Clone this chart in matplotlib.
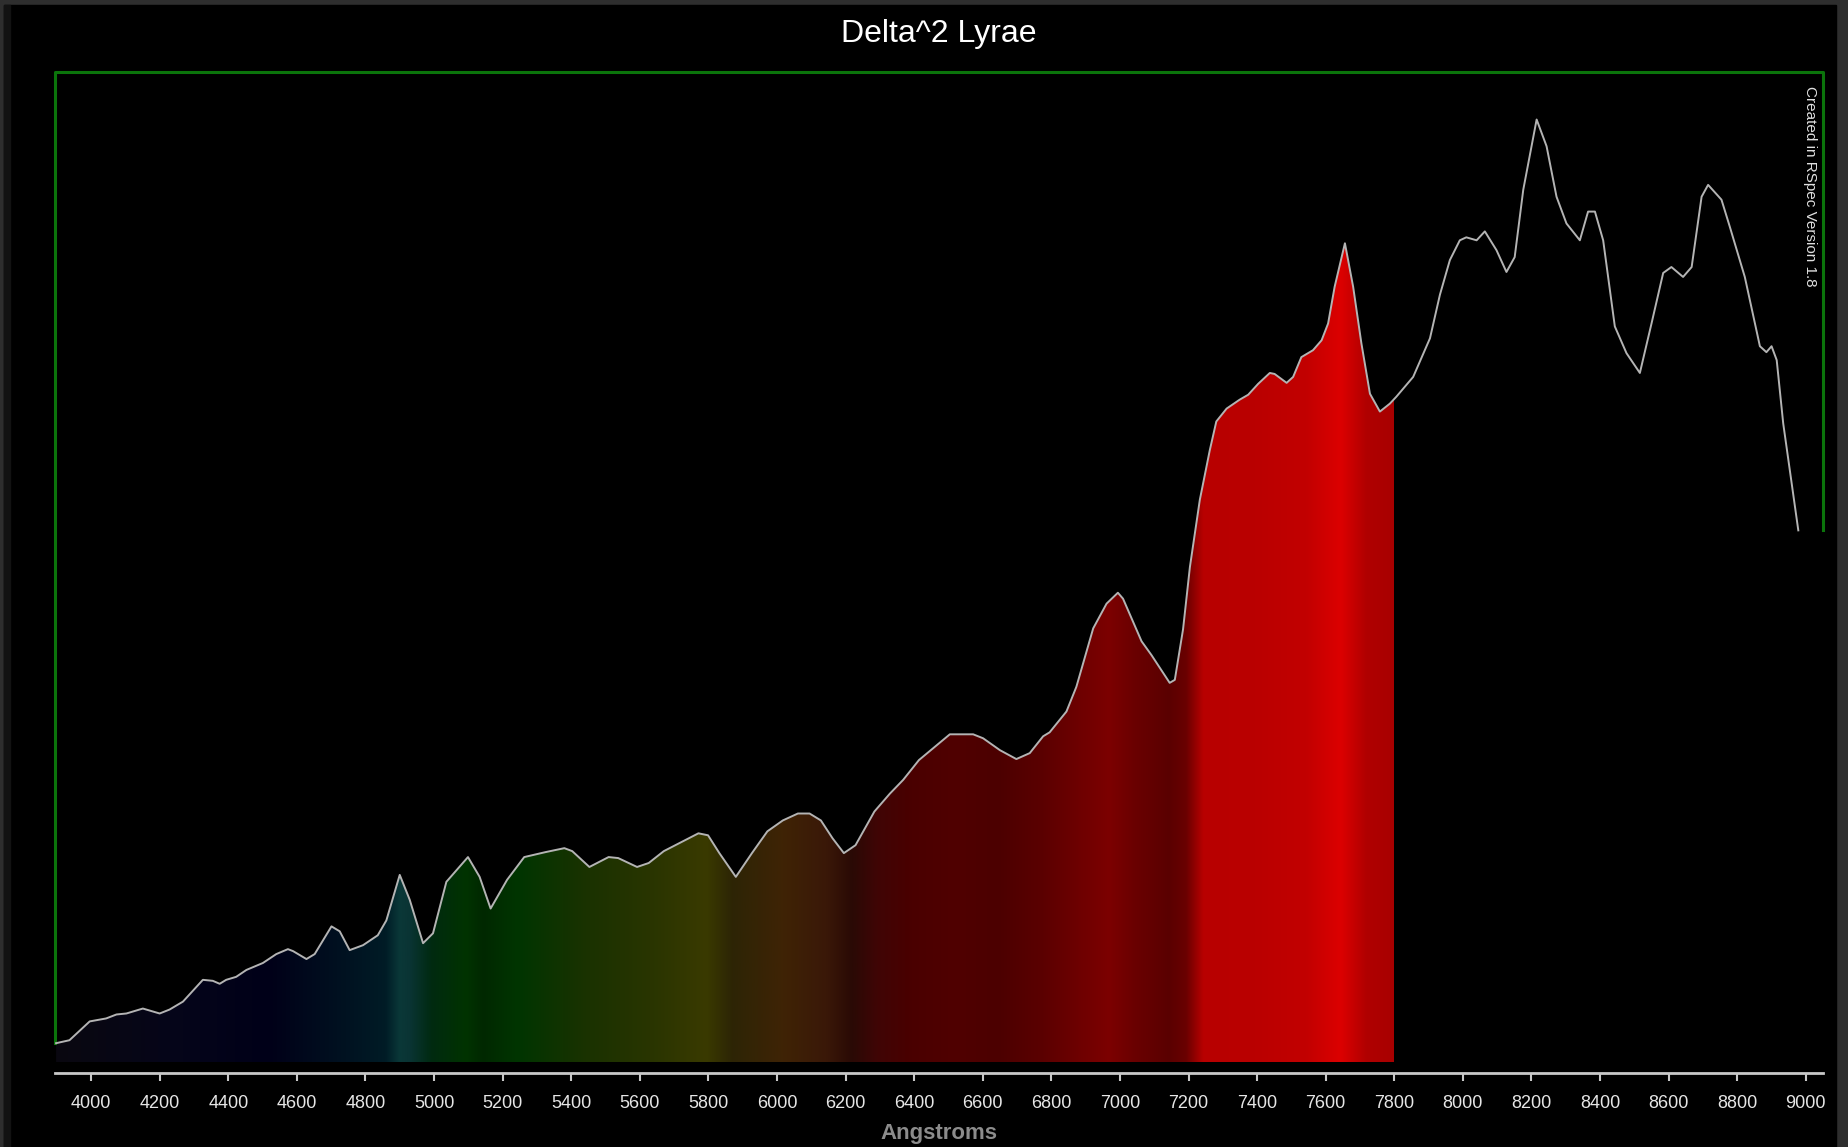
#!/usr/bin/env python3
"""Delta^2 Lyrae spectrum, RSpec style: rainbow-filled profile on black."""
import numpy as np
import matplotlib
matplotlib.use("Agg")
import matplotlib.pyplot as plt
from matplotlib.patches import Rectangle

# wavelength (Angstrom) and relative flux
wavelength = [3898, 3937, 3996, 4044, 4074, 4103, 4151, 4200, 4229, 4268,
              4326, 4355, 4375, 4394, 4423, 4453, 4501, 4540, 4574, 4589,
              4628, 4652, 4701, 4725, 4754, 4793, 4836, 4861, 4900, 4929,
              4968, 4997, 5036, 5099, 5133, 5165, 5213, 5263, 5325, 5380,
              5403, 5453, 5509, 5537, 5592, 5626, 5670, 5726, 5771, 5799,
              5832, 5880, 5927, 5972, 6017, 6061, 6095, 6128, 6162, 6195,
              6229, 6284, 6329, 6368, 6414, 6483, 6504, 6572, 6601, 6650,
              6698, 6737, 6776, 6795, 6844, 6873, 6922, 6961, 6994, 7009,
              7063, 7092, 7145, 7160, 7184, 7204, 7233, 7262, 7281, 7311,
              7349, 7374, 7403, 7437, 7451, 7486, 7505, 7529, 7563, 7588,
              7607, 7626, 7656, 7680, 7704, 7729, 7758, 7787, 7806, 7855,
              7904, 7933, 7962, 7991, 8010, 8040, 8064, 8098, 8127, 8151,
              8176, 8215, 8244, 8273, 8302, 8341, 8365, 8385, 8409, 8443,
              8477, 8516, 8550, 8584, 8608, 8642, 8667, 8696, 8715, 8754,
              8778, 8822, 8866, 8885, 8900, 8915, 8934, 8978]
flux = [0.019, 0.022, 0.041, 0.044, 0.048, 0.049, 0.054, 0.049, 0.053, 0.061,
        0.083, 0.082, 0.079, 0.083, 0.086, 0.093, 0.100, 0.109, 0.114, 0.112,
        0.104, 0.109, 0.137, 0.132, 0.113, 0.118, 0.128, 0.143, 0.189, 0.164,
        0.120, 0.130, 0.182, 0.207, 0.187, 0.155, 0.184, 0.207, 0.212, 0.216,
        0.213, 0.197, 0.207, 0.206, 0.197, 0.201, 0.213, 0.223, 0.231, 0.229,
        0.211, 0.187, 0.211, 0.233, 0.244, 0.251, 0.251, 0.244, 0.226, 0.211,
        0.219, 0.253, 0.271, 0.285, 0.305, 0.325, 0.331, 0.331, 0.327, 0.315,
        0.306, 0.312, 0.329, 0.333, 0.354, 0.379, 0.438, 0.463, 0.474, 0.468,
        0.425, 0.411, 0.383, 0.386, 0.437, 0.500, 0.568, 0.618, 0.647, 0.660,
        0.669, 0.674, 0.685, 0.696, 0.695, 0.686, 0.692, 0.712, 0.719, 0.729,
        0.746, 0.783, 0.827, 0.783, 0.726, 0.675, 0.657, 0.665, 0.672, 0.692,
        0.731, 0.775, 0.810, 0.830, 0.833, 0.830, 0.839, 0.820, 0.798, 0.813,
        0.881, 0.952, 0.925, 0.874, 0.847, 0.830, 0.859, 0.859, 0.830, 0.743,
        0.716, 0.696, 0.746, 0.797, 0.803, 0.793, 0.803, 0.874, 0.886, 0.871,
        0.844, 0.793, 0.723, 0.717, 0.723, 0.709, 0.645, 0.537]
assert len(wavelength) == len(flux)

x_ticks = list(range(4000, 9001, 200))
title = "Delta^2 Lyrae"
x_label = "Angstroms"
credit = "Created in RSpec Version 1.8"

X_MIN, X_MAX = 3896, 9050
FILL_END = 7800

# colour of the filled area along wavelength
grad_wl = [3896, 4269, 4519, 4719, 4860, 4900, 4930, 4994, 5094, 5144,
           5244, 5444, 5644, 5795, 5870, 6020, 6145, 6220, 6295, 6395,
           6520, 6645, 6770, 6895, 6970, 7045, 7145, 7195, 7245, 7396,
           7546, 7646, 7721, 7800]
grad_col = ["#0a0810", "#05051a", "#000018", "#001020", "#001c26", "#0a3838",
            "#0a3434", "#002a10", "#003300", "#002800", "#003500", "#1a3200",
            "#2a3500", "#3a3a00", "#2d2505", "#3f2305", "#3a1808", "#2a0a05",
            "#400505", "#4a0000", "#500000", "#4c0000", "#5a0000", "#700000",
            "#7c0000", "#6a0000", "#5a0000", "#6a0000", "#b80000", "#ba0000",
            "#c20000", "#dc0000", "#b00000", "#a80000"]


def main():
    W, H = 1848, 1147
    fig = plt.figure(figsize=(W / 100, H / 100), dpi=100, facecolor="#2e2e2e")
    # black panel inside the grey window border
    fig.add_artist(Rectangle((4 / W, 0), (1836 - 4) / W, 1142 / H,
                             transform=fig.transFigure, color="black", zorder=-10))
    fig.add_artist(Rectangle((4 / W, 0), 6 / W, 1142 / H,
                             transform=fig.transFigure, color="#121212", zorder=-9))

    ax = fig.add_axes([55.4 / W, (H - 1062) / H, (1823 - 55.4) / W, (1062 - 72) / H])
    ax.set_facecolor("black")
    ax.set_xlim(X_MIN, X_MAX)
    ax.set_ylim(0, 1.0)

    wl = np.array(wavelength, float)
    fl = np.array(flux, float)

    # spectrum gradient, clipped to the area under the curve
    poly = ax.fill_between(wl, 0, fl, color="none", lw=0)
    gx = np.linspace(X_MIN, FILL_END, 2000)
    rgb = np.array([matplotlib.colors.to_rgb(c) for c in grad_col])
    img = np.stack([np.interp(gx, grad_wl, rgb[:, k]) for k in range(3)], axis=-1)
    im = ax.imshow(img[np.newaxis, :, :], extent=[X_MIN, FILL_END, 0, 1.0],
                   aspect="auto", interpolation="bilinear", zorder=1)
    im.set_clip_path(poly.get_paths()[0], transform=ax.transData)

    ax.plot(wl, fl, color="#b4b4b4", lw=1.4, zorder=3,
            solid_joinstyle="round")

    # green frame joining the two ends of the profile
    ax.plot([X_MIN, X_MIN, X_MAX, X_MAX], [fl[0], 1.0, 1.0, fl[-1]],
            color="#0b740b", lw=2.2, zorder=2, clip_on=False,
            solid_joinstyle="round")

    for s in ("top", "left", "right"):
        ax.spines[s].set_visible(False)
    ax.spines["bottom"].set_position(("outward", 8))
    ax.spines["bottom"].set_color("#c8c8c8")
    ax.spines["bottom"].set_linewidth(2.0)
    ax.set_yticks([])
    ax.set_xticks(x_ticks)
    ax.tick_params(axis="x", colors="#c8c8c8", length=6, width=1.5,
                   direction="out", pad=9.5, labelsize=13, labelcolor="#e6e6e6")
    for lab in ax.get_xticklabels():
        lab.set_family("Liberation Sans")

    ax.set_xlabel(x_label, color="#8c8c8c", fontsize=16, fontweight="bold",
                  family="Liberation Sans", labelpad=8)

    fig.text(939 / W, 1 - 34 / H, title, color="white", fontsize=23,
             family="Liberation Sans", ha="center", va="center")
    fig.text(1810 / W, 1 - 86 / H, credit, color="#e0e0e0", fontsize=11,
             family="Liberation Sans", rotation=270, ha="center", va="top")

    fig.savefig("out.png", dpi=100, facecolor=fig.get_facecolor())


if __name__ == "__main__":
    main()
